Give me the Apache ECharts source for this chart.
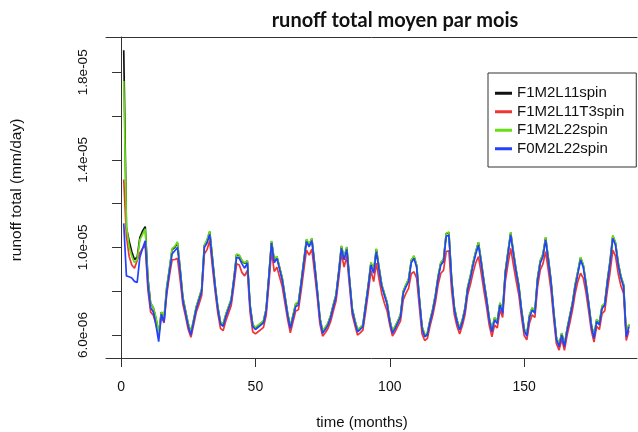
<!DOCTYPE html>
<html>
<head>
<meta charset="utf-8">
<script src="https://cdn.jsdelivr.net/npm/echarts@6/dist/echarts.min.js"></script>
<style>
  html, body { margin: 0; padding: 0; background: #fff; }
  #chart { width: 638px; height: 432px; }
</style>
</head>
<body>
<div id="chart"></div>
<script>
// Monthly mean total runoff, in units of 1e-6 mm/day, months 1..189
const seriesNames = ['F1M2L11spin', 'F1M2L11T3spin', 'F1M2L22spin', 'F0M2L22spin'];

const runoffF1M2L11spin = [
  19.00, 10.90, 10.30, 9.80, 9.45, 9.55, 10.45, 10.75, 10.95, 8.60,
  7.45, 7.25, 6.75, 6.05, 7.05, 6.75, 8.15, 9.00, 9.90, 10.00,
  10.20, 9.00, 7.70, 7.10, 6.50, 6.10, 6.68, 7.28, 7.68, 8.08,
  10.08, 10.32, 10.72, 9.52, 8.28, 7.28, 6.58, 6.48, 6.93, 7.28,
  7.62, 8.58, 9.68, 9.62, 9.38, 9.27, 9.38, 7.38, 6.48, 6.33,
  6.43, 6.53, 6.63, 7.18, 8.68, 10.28, 9.42, 9.58, 9.08, 8.58,
  7.78, 6.98, 6.38, 6.88, 7.42, 7.48, 8.38, 9.38, 10.35, 10.12,
  10.40, 9.28, 8.08, 6.78, 6.16, 6.33, 6.53, 6.88, 7.38, 7.83,
  8.88, 10.05, 9.52, 10.00, 8.58, 7.23, 6.68, 6.23, 6.33, 6.46,
  7.38, 8.28, 9.30, 8.92, 9.92, 9.08, 8.30, 7.88, 7.48, 6.68,
  6.16, 6.38, 6.63, 6.93, 7.98, 8.28, 8.54, 9.40, 9.60, 9.18,
  7.68, 6.38, 6.00, 6.08, 6.68, 7.18, 7.83, 8.68, 9.30, 9.45,
  10.62, 10.68, 8.58, 7.28, 6.68, 6.31, 6.68, 7.22, 8.18, 8.70,
  9.30, 9.80, 10.22, 9.40, 8.48, 7.68, 6.78, 6.23, 6.78, 6.62,
  7.46, 7.08, 8.90, 9.80, 10.68, 9.80, 8.98, 8.28, 7.18, 6.28,
  6.03, 6.90, 7.23, 7.08, 8.60, 9.38, 9.68, 10.45, 9.50, 8.48,
  7.08, 5.88, 5.55, 6.08, 5.55, 6.28, 6.88, 7.48, 8.30, 8.90,
  9.53, 9.20, 8.38, 7.48, 6.48, 5.93, 6.70, 6.55, 7.31, 7.44,
  8.50, 9.40, 10.53, 10.20, 9.30, 8.68, 8.30, 6.00, 6.48
];

const runoffF1M2L11T3spin = [
  13.10, 10.50, 9.60, 9.20, 9.05, 9.40, 9.75, 9.95, 10.10, 8.05,
  7.05, 6.90, 6.50, 6.00, 6.85, 6.55, 7.85, 8.70, 9.43, 9.45,
  9.50, 8.50, 7.40, 6.85, 6.25, 5.90, 6.45, 7.05, 7.40, 7.80,
  9.70, 9.90, 10.30, 9.10, 8.00, 7.00, 6.30, 6.20, 6.65, 7.00,
  7.35, 8.25, 9.25, 9.20, 8.85, 8.70, 8.95, 7.05, 6.15, 6.05,
  6.15, 6.25, 6.35, 6.90, 8.30, 9.85, 8.90, 9.10, 8.65, 8.20,
  7.45, 6.70, 6.10, 6.60, 7.10, 7.15, 8.00, 8.95, 9.88, 9.65,
  9.92, 8.85, 7.75, 6.50, 5.95, 6.10, 6.30, 6.62, 7.10, 7.55,
  8.55, 9.73, 9.10, 9.60, 8.25, 6.95, 6.45, 6.00, 6.10, 6.22,
  7.05, 7.95, 8.95, 8.44, 9.28, 8.55, 7.90, 7.45, 7.10, 6.45,
  5.95, 6.15, 6.40, 6.65, 7.60, 7.90, 8.13, 8.80, 8.89, 8.60,
  7.30, 6.05, 5.75, 5.85, 6.42, 6.90, 7.50, 8.30, 8.82, 8.95,
  9.81, 9.85, 8.05, 6.95, 6.40, 6.05, 6.42, 6.92, 7.85, 8.30,
  8.85, 9.30, 9.58, 8.85, 8.05, 7.30, 6.45, 5.92, 6.45, 6.32,
  7.15, 6.80, 8.45, 9.25, 9.96, 9.20, 8.50, 7.85, 6.85, 5.98,
  5.78, 6.55, 6.92, 6.80, 8.20, 8.97, 9.25, 9.81, 8.95, 8.05,
  6.75, 5.60, 5.31, 5.80, 5.30, 6.00, 6.55, 7.15, 7.90, 8.45,
  8.82, 8.60, 7.95, 7.10, 6.20, 5.68, 6.40, 6.25, 6.98, 7.10,
  8.05, 8.90, 9.88, 9.60, 8.80, 8.25, 7.90, 5.75, 6.20
];

const runoffF1M2L22spin = [
  17.60, 11.00, 10.05, 9.60, 9.30, 9.45, 10.35, 10.60, 10.85, 8.55,
  7.45, 7.25, 6.80, 6.10, 7.05, 6.80, 8.20, 9.05, 9.95, 10.05,
  10.26, 9.05, 7.75, 7.10, 6.55, 6.10, 6.70, 7.30, 7.70, 8.10,
  10.10, 10.35, 10.75, 9.55, 8.30, 7.30, 6.60, 6.50, 6.95, 7.30,
  7.65, 8.60, 9.70, 9.65, 9.40, 9.30, 9.40, 7.40, 6.50, 6.35,
  6.45, 6.55, 6.65, 7.20, 8.70, 10.30, 9.45, 9.60, 9.10, 8.60,
  7.80, 7.00, 6.40, 6.90, 7.45, 7.50, 8.40, 9.40, 10.38, 10.15,
  10.42, 9.30, 8.10, 6.80, 6.18, 6.35, 6.55, 6.90, 7.40, 7.85,
  8.90, 10.08, 9.55, 10.03, 8.60, 7.25, 6.70, 6.25, 6.35, 6.48,
  7.40, 8.30, 9.32, 8.94, 9.95, 9.10, 8.32, 7.90, 7.50, 6.70,
  6.18, 6.40, 6.65, 6.95, 8.00, 8.30, 8.56, 9.42, 9.62, 9.20,
  7.70, 6.40, 6.02, 6.10, 6.70, 7.20, 7.85, 8.70, 9.32, 9.47,
  10.65, 10.70, 8.60, 7.30, 6.70, 6.33, 6.70, 7.24, 8.20, 8.72,
  9.32, 9.82, 10.24, 9.42, 8.50, 7.70, 6.80, 6.25, 6.80, 6.64,
  7.48, 7.10, 8.92, 9.82, 10.70, 9.82, 9.00, 8.30, 7.20, 6.30,
  6.05, 6.92, 7.25, 7.10, 8.62, 9.40, 9.70, 10.47, 9.52, 8.50,
  7.10, 5.90, 5.57, 6.10, 5.57, 6.30, 6.90, 7.50, 8.32, 8.92,
  9.55, 9.22, 8.40, 7.50, 6.50, 5.95, 6.72, 6.57, 7.33, 7.46,
  8.52, 9.42, 10.55, 10.22, 9.32, 8.70, 8.32, 6.02, 6.50
];

const runoffF0M2L22spin = [
  11.10, 8.70, 8.66, 8.60, 8.45, 8.40, 9.55, 9.95, 10.30, 8.30,
  7.25, 7.05, 6.45, 5.70, 6.95, 6.60, 8.00, 8.90, 9.70, 9.85,
  10.00, 8.90, 7.60, 7.00, 6.40, 6.00, 6.60, 7.20, 7.60, 8.00,
  10.00, 10.20, 10.60, 9.40, 8.20, 7.20, 6.50, 6.40, 6.85, 7.20,
  7.55, 8.50, 9.55, 9.50, 9.25, 9.05, 9.30, 7.30, 6.40, 6.25,
  6.35, 6.45, 6.55, 7.10, 8.60, 10.20, 9.30, 9.50, 9.00, 8.50,
  7.70, 6.90, 6.30, 6.80, 7.30, 7.37, 8.30, 9.30, 10.26, 10.03,
  10.31, 9.20, 8.00, 6.70, 6.08, 6.25, 6.45, 6.80, 7.30, 7.75,
  8.80, 9.96, 9.43, 9.91, 8.50, 7.14, 6.60, 6.15, 6.25, 6.38,
  7.29, 8.20, 9.20, 8.82, 9.81, 9.00, 8.21, 7.80, 7.40, 6.60,
  6.08, 6.30, 6.55, 6.84, 7.90, 8.20, 8.44, 9.30, 9.50, 9.10,
  7.60, 6.30, 5.92, 6.00, 6.60, 7.10, 7.75, 8.60, 9.20, 9.35,
  10.50, 10.57, 8.50, 7.20, 6.60, 6.23, 6.60, 7.14, 8.10, 8.60,
  9.20, 9.70, 10.11, 9.30, 8.40, 7.60, 6.70, 6.15, 6.69, 6.53,
  7.37, 6.99, 8.80, 9.70, 10.57, 9.70, 8.90, 8.20, 7.10, 6.20,
  5.95, 6.80, 7.14, 7.00, 8.50, 9.28, 9.58, 10.34, 9.40, 8.40,
  7.00, 5.80, 5.47, 6.00, 5.47, 6.20, 6.80, 7.40, 8.20, 8.80,
  9.43, 9.10, 8.30, 7.40, 6.40, 5.85, 6.61, 6.46, 7.22, 7.35,
  8.40, 9.30, 10.42, 10.10, 9.20, 8.60, 8.21, 5.92, 6.38
];

const months = runoffF0M2L22spin.map((_, i) => i + 1);

const xTickValues = [0, 50, 100, 150];
const yTickValues = [6, 8, 10, 12, 14, 16, 18];
const yLabelValues = [6, 10, 14, 18];
const yLabelTexts = ['6.0e-06', '1.0e-05', '1.4e-05', '1.8e-05'];

const seriesValues = [runoffF1M2L11spin, runoffF1M2L11T3spin, runoffF1M2L22spin, runoffF0M2L22spin];
const seriesColors = ['#111111', '#f03434', '#66dd14', '#2242ff'];

const FONT = '"Liberation Sans", Arial, sans-serif';
const FRAME = '#333';

const chart = echarts.init(document.getElementById('chart'), null, { renderer: 'canvas' });

chart.setOption({
  animation: false,
  backgroundColor: '#ffffff',
  title: {
    text: 'runoff total moyen par mois',
    left: 390,
    top: 6,
    textAlign: 'center',
    textStyle: { fontFamily: 'Lato, "Open Sans", sans-serif', fontWeight: 'bold', fontSize: 20, color: '#111' }
  },
  legend: {
    orient: 'vertical',
    left: 488,
    top: 73,
    padding: [11, 12, 9, 7],
    borderColor: FRAME,
    borderWidth: 1,
    itemGap: 0,
    itemWidth: 17,
    itemHeight: 3,
    icon: 'rect',
    data: seriesNames,
    textStyle: { fontFamily: FONT, fontSize: 15, color: '#111', lineHeight: 18.5 }
  },
  // plot frame runs past the right edge of the canvas, so only three sides show
  grid: {
    left: 106,
    top: 37,
    right: 1,
    bottom: 74,
    show: false
  },
  xAxis: [
    {
      type: 'value',
      position: 'bottom',
      min: -5.6,
      max: 192,
      axisLine: { show: true, lineStyle: { color: FRAME, width: 1 } },
      splitLine: { show: false },
      axisTick: { show: true, inside: false, length: 9, customValues: xTickValues, lineStyle: { color: FRAME } },
      axisLabel: { customValues: xTickValues, margin: 22, fontFamily: FONT, fontSize: 14, color: '#111' }
    },
    {
      type: 'value',
      position: 'top',
      min: -5.6,
      max: 192,
      axisLine: { show: true, lineStyle: { color: FRAME, width: 1 } },
      splitLine: { show: false },
      axisTick: { show: false },
      axisLabel: { show: false }
    }
  ],
  yAxis: {
    type: 'value',
    min: 4.95,
    max: 19.61,
    axisLine: { show: true, lineStyle: { color: FRAME, width: 1 } },
    splitLine: { show: false },
    axisTick: { show: true, inside: false, length: 9, customValues: yTickValues, lineStyle: { color: FRAME } },
    axisLabel: {
      customValues: yLabelValues,
      rotate: 90,
      margin: 16,
      fontFamily: FONT,
      fontSize: 13.5,
      color: '#111',
      formatter: v => yLabelTexts[yLabelValues.indexOf(v)]
    }
  },
  graphic: [
    {
      type: 'text',
      x: 17,
      y: 190,
      rotation: Math.PI / 2,
      style: {
        text: 'runoff total (mm/day)',
        fontFamily: FONT,
        fontSize: 15.5,
        fill: '#111',
        align: 'center',
        verticalAlign: 'middle'
      }
    },
    {
      type: 'text',
      x: 362,
      y: 423,
      style: {
        text: 'time (months)',
        fontFamily: FONT,
        fontSize: 15,
        fill: '#111',
        align: 'center',
        verticalAlign: 'middle'
      }
    }
  ],
  series: seriesNames.map((name, k) => ({
    name,
    type: 'line',
    xAxisIndex: 0,
    data: months.map((m, i) => [m, seriesValues[k][i]]),
    showSymbol: false,
    symbol: 'none',
    color: seriesColors[k],
    lineStyle: { color: seriesColors[k], width: 1.7 },
    silent: true
  }))
});
</script>
</body>
</html>
